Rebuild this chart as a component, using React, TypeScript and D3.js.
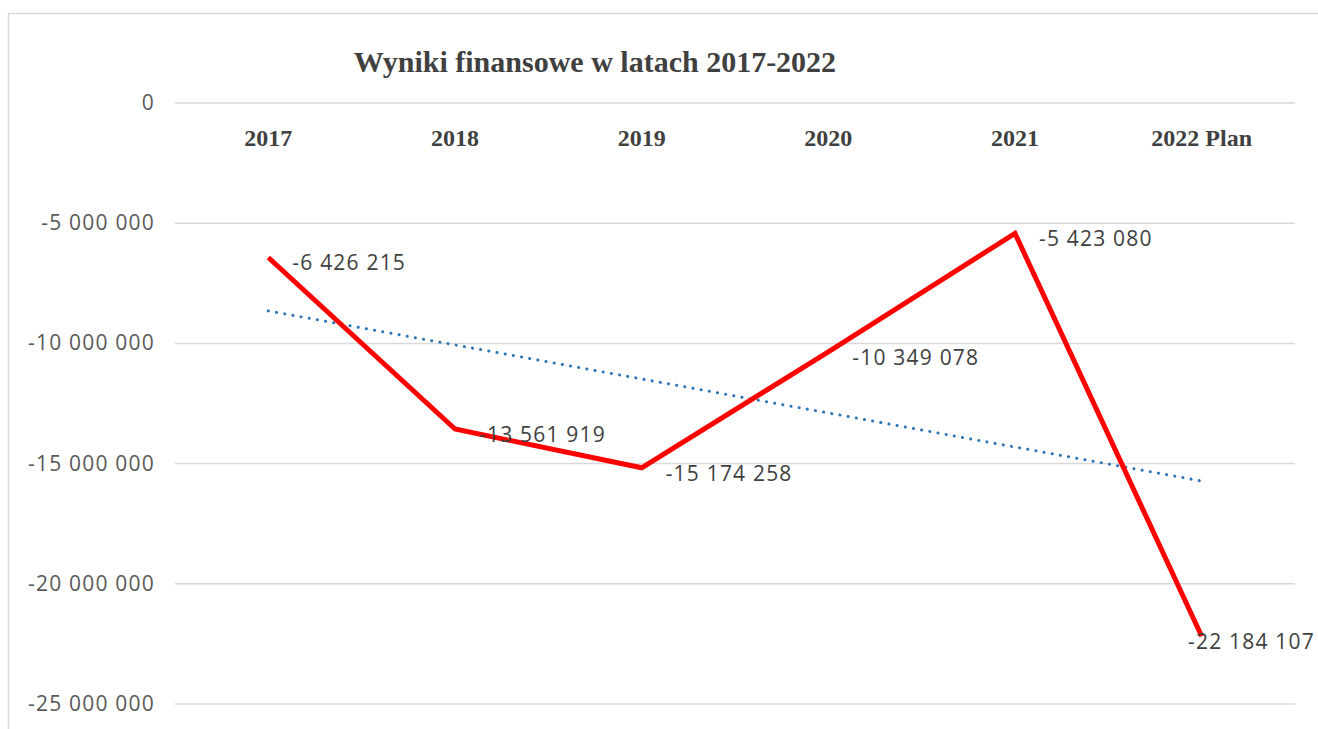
import React from 'react';
import * as d3 from 'd3';

const categories = ['2017', '2018', '2019', '2020', '2021', '2022 Plan'];
const results = [-6426215, -13561919, -15174258, -10349078, -5423080, -22184107];
const yTicks = [0, -5000000, -10000000, -15000000, -20000000, -25000000];

const W = 1318;
const H = 729;
const plot = { left: 175, right: 1295, top: 103, bottom: 704 };

const fmt = (v: number) => {
  const s = Math.abs(v).toString().replace(/\B(?=(\d{3})+(?!\d))/g, ' ');
  return (v < 0 ? '-' : '') + s;
};

// linear trend line (least squares over category index)
const trend = (() => {
  const n = results.length;
  const mx = (n - 1) / 2;
  const my = d3.mean(results) as number;
  let num = 0;
  let den = 0;
  results.forEach((v, i) => {
    num += (i - mx) * (v - my);
    den += (i - mx) * (i - mx);
  });
  const slope = num / den;
  return [0, n - 1].map(i => ({ i, v: my + slope * (i - mx) }));
})();

export default function App() {
  const x = d3.scaleBand<string>().domain(categories).range([plot.left, plot.right]);
  const y = d3.scaleLinear().domain([0, -25000000]).range([plot.top, plot.bottom]);
  const cx = (c: string) => (x(c) || 0) + x.bandwidth() / 2;

  const line = d3.line<number>()
    .x((_, i) => cx(categories[i]))
    .y(d => y(d));

  const trendLine = d3.line<{ i: number; v: number }>()
    .x(d => cx(categories[d.i]))
    .y(d => y(d.v));

  const sans = '"Open Sans", "Liberation Sans", sans-serif';
  const serif = '"Liberation Serif", "Times New Roman", serif';
  const labelSize = 21;
  const spacing = 1.2;

  return (
    <svg width={W} height={H} style={{ position: 'absolute', left: 0, top: 0, background: '#fff' }}>
      <rect x={8.5} y={13.5} width={1330} height={800} fill="#fff" stroke="#d9d9d9" strokeWidth={1.5} />

      <text x={595} y={72} textAnchor="middle" fontFamily={serif} fontWeight="bold" fontSize={30} fill="#404040">
        Wyniki finansowe w latach 2017-2022
      </text>

      {/* gridlines + y labels */}
      {yTicks.map(t => (
        <g key={t}>
          <line x1={plot.left} x2={plot.right} y1={y(t)} y2={y(t)} stroke="#d9d9d9" strokeWidth={1.5} />
          <text x={155} y={y(t) + 7} textAnchor="end" fontFamily={sans} fontSize={labelSize}
            letterSpacing={spacing} fill="#595959">
            {fmt(t)}
          </text>
        </g>
      ))}

      {/* category labels */}
      {categories.map(c => (
        <text key={c} x={cx(c)} y={146} textAnchor="middle" fontFamily={serif} fontWeight="bold" fontSize={24} fill="#404040">
          {c}
        </text>
      ))}

      <path d={trendLine(trend) || ''} fill="none" stroke="#2e75b6" strokeWidth={3}
        strokeDasharray="0.1 8.2" strokeLinecap="round" />

      <path d={line(results) || ''} fill="none" stroke="#ff0000" strokeWidth={5} strokeLinejoin="miter" />

      {/* data labels */}
      {results.map((v, i) => {
        const px = cx(categories[i]);
        const py = y(v);
        const txt = fmt(v);
        const estW = txt.length * (labelSize * 0.56 + spacing);
        const fits = px + 22 + estW < 1316;
        return (
          <text key={i} x={fits ? px + 24 : 1315} y={py + 13} textAnchor={fits ? 'start' : 'end'}
            fontFamily={sans} fontSize={labelSize} letterSpacing={spacing} fill="#404040">
            {txt}
          </text>
        );
      })}
    </svg>
  );
}
